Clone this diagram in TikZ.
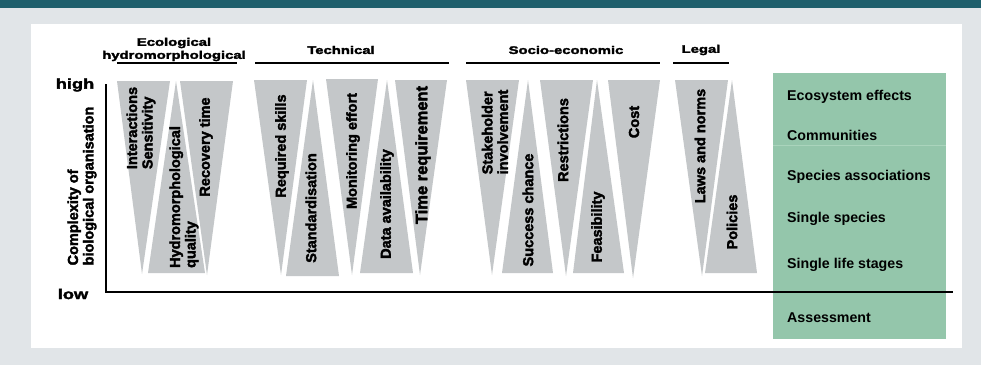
\documentclass[tikz,border=0pt]{standalone}
\usepackage{fontspec}
\setmainfont{Liberation Sans}
\font\hvA="Liberation Sans Bold:embolden=2.5" at 14.5pt
\font\hvB="Liberation Sans Bold:embolden=2.5" at 16.5pt
\font\wdA="Liberation Sans Bold:extend=1.35;embolden=2.5" at 11pt
\font\wdB="Liberation Sans Bold:extend=1.3;embolden=2.5" at 14pt
\definecolor{teal}{RGB}{30,95,108}
\definecolor{bggrey}{RGB}{225,229,232}
\definecolor{trigrey}{RGB}{196,199,201}
\definecolor{boxgreen}{RGB}{148,198,171}
\definecolor{boxline}{RGB}{170,212,188}
\tikzset{
  tri/.style={fill=trigrey},
  lab/.style={rotate=90,align=left,inner sep=0pt,font={\hvA\baselineskip=15.5pt}},
  head/.style={align=center,inner sep=0pt,font={\wdA\baselineskip=13pt}},
  rule/.style={line width=2pt},
  glab/.style={anchor=west,inner sep=0pt,font=\bfseries\fontsize{14.2}{16}\selectfont},
  axlab/.style={inner sep=0pt,font=\wdB}
}
\begin{document}
\begin{tikzpicture}[x=1pt,y=-1pt]
\useasboundingbox (0,0) rectangle (981,365);
\fill[bggrey] (0,0) rectangle (981,365);
\fill[teal] (0,0) rectangle (981,8);
\fill[white] (31,24) rectangle (962,348);
% headers
\node[head] (hEco) at (174,49.5) {Ecological\\hydromorphological};
\draw[rule] (117,63) -- (237,63);
\node[head] (hTec) at (341,50) {Technical};
\draw[rule] (255,63) -- (449,63);
\node[head] (hSoc) at (566,50) {Socio-economic};
\draw[rule] (466,63) -- (660,63);
\node[head] (hLeg) at (701,50) {Legal};
\draw[rule] (673,63) -- (729,63);
% triangles
\fill[tri] (117,81) -- (170,81) -- (142,274) -- cycle;
\fill[tri] (176,81) -- (205,273) -- (148,273) -- cycle;
\fill[tri] (180,81) -- (233,81) -- (207,275) -- cycle;
\fill[tri] (254,80) -- (307,80) -- (281,275) -- cycle;
\fill[tri] (313,80) -- (339,276) -- (286,276) -- cycle;
\fill[tri] (326,79) -- (378,79) -- (352,275) -- cycle;
\fill[tri] (387,80) -- (413,273) -- (360,273) -- cycle;
\fill[tri] (395,80) -- (447,80) -- (420,275) -- cycle;
\fill[tri] (466,80) -- (519,80) -- (492,275) -- cycle;
\fill[tri] (528,80) -- (553,273) -- (502,273) -- cycle;
\fill[tri] (540,80) -- (593,80) -- (566,276) -- cycle;
\fill[tri] (597,80) -- (624,273) -- (573,273) -- cycle;
\fill[tri] (608,80) -- (660,80) -- (633,278) -- cycle;
\fill[tri] (675,80) -- (728,80) -- (702,276) -- cycle;
\fill[tri] (732,80) -- (757,273) -- (705,273) -- cycle;
% triangle labels
\node[lab] (t1) at (141,128) {Interactions\\Sensitivity};
\node[lab] (t2) at (184,197) {Hydromorphological\\quality};
\node[lab] (t3) at (206,147) {Recovery time};
\node[lab] (t4) at (282,146) {Required skills};
\node[lab] (t5) at (311,208) {Standardisation};
\node[lab] (t6) at (353,151) {Monitoring effort};
\node[lab] (t7) at (387,204) {Data availability};
\node[lab,font=\hvB] (t8) at (423,155) {Time requirement};
\node[lab] (t9) at (495,132) {Stakeholder\\involvement};
\node[lab] (t10) at (528,210) {Success chance};
\node[lab] (t11) at (563,140) {Restrictions};
\node[lab] (t12) at (598,227) {Feasibility};
\node[lab] (t13) at (634,122) {Cost};
\node[lab] (t14) at (700,146) {Laws and norms};
\node[lab] (t15) at (732,222) {Policies};
% green box
\fill[boxgreen] (773,73) rectangle (946,339);
\draw[boxline,line width=0.6pt] (773,145) -- (946,145);
\node[glab] (g1) at (787,97) {Ecosystem effects};
\node[glab] (g2) at (787,135) {Communities};
\node[glab] (g3) at (787,177) {Species associations};
\node[glab] (g4) at (787,219) {Single species};
\node[glab] (g5) at (787,265) {Single life stages};
\node[glab] (g6) at (787,318) {Assessment};
% axes
\coordinate (top) at (106,84);
\coordinate (origin) at (106,292);
\coordinate (right) at (953,292);
\draw[rule] (top) -- (origin) -- (right);
\node[axlab] (high) at (75,85) {high};
\node[axlab] (low) at (73,294) {low};
\node[lab] (ylab) at (82,186) {Complexity of\\biological organisation};
\end{tikzpicture}
\end{document}
